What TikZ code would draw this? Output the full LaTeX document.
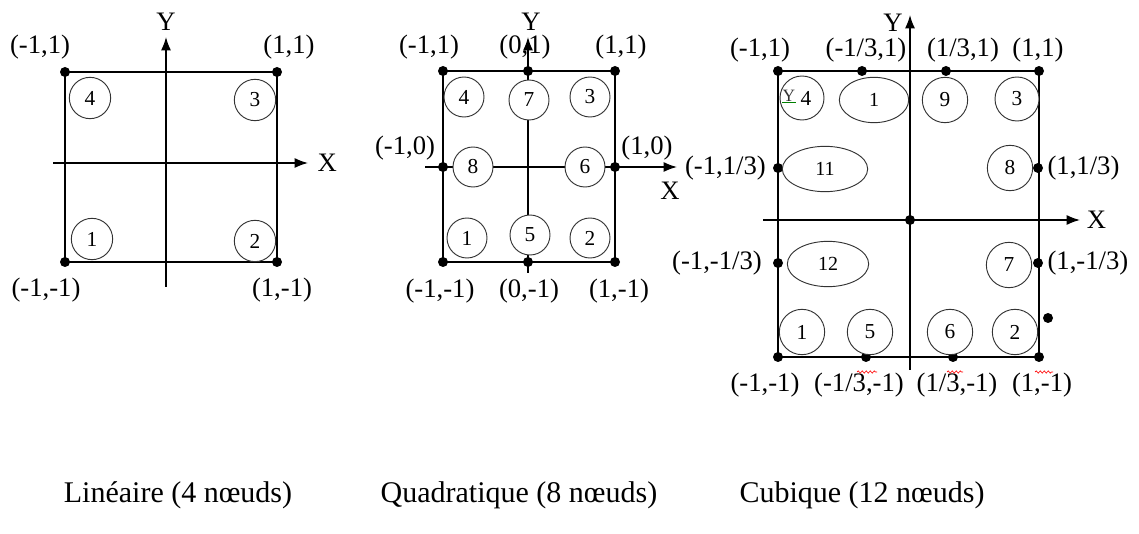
\documentclass[tikz,border=0pt]{standalone}
\usepackage{fontspec}
\setmainfont{Liberation Serif}
\usetikzlibrary{positioning,arrows.meta,shapes.geometric,decorations.pathmorphing}

\begin{document}
\begin{tikzpicture}[
    x=0.75pt, y=-0.75pt,
    dotnode/.style={circle, fill=black, inner sep=0pt, minimum size=7.5pt},
    coord/.style={font=\fontsize{20}{24}\selectfont, inner sep=0pt},
    elem/.style={draw=black!80, circle, fill=white, inner sep=0pt, minimum size=31pt, line width=0.7pt, font=\fontsize{16}{18}\selectfont},
    elemE/.style={draw=black!80, ellipse, fill=white, inner sep=0pt, line width=0.7pt, font=\fontsize{15}{17}\selectfont},
    side/.style={line width=1.1pt},
    axis/.style={line width=1.1pt, -{Latex[length=10pt, width=7.5pt]}},
    captext/.style={font=\fontsize{22.5}{27}\selectfont, inner sep=0pt},
    squig/.style={red, line width=0.5pt, decorate, decoration={snake, amplitude=0.8pt, segment length=3pt}}
]
\useasboundingbox (0,0) rectangle (1139,534);

% Lineaire
\node[dotnode] (la) at (65,262) {};
\node[dotnode] (lb) at (277,262) {};
\node[dotnode] (lc) at (277,72) {};
\node[dotnode] (ld) at (65,72) {};
\draw[side] (la.center) -- (lb.center) -- (lc.center) -- (ld.center) -- cycle;
\coordinate (lx0) at (53,163);
\coordinate (lx1) at (308,163);
\coordinate (ly0) at (166,287);
\coordinate (ly1) at (166,37);
\draw[axis] (lx0) -- (lx1);
\draw[axis] (ly0) -- (ly1);
\node[elem] (l1) at (92,239) {1};
\node[elem] (l2) at (255,241) {2};
\node[elem] (l3) at (255,100) {3};
\node[elem] (l4) at (90,98) {4};
\node[coord] (tla) at (46,290) {(-1,-1)};
\node[coord] (tlb) at (282,290) {(1,-1)};
\node[coord] (tlc) at (289,47) {(1,1)};
\node[coord] (tld) at (40,47) {(-1,1)};
\node[coord, right=7pt of lx1] (lX) {X};
\node[coord, above=5pt of ly1] (lY) {Y};

% Quadratique
\node[dotnode] (qa) at (443,262) {};
\node[dotnode] (qb) at (615,262) {};
\node[dotnode] (qc) at (615,71) {};
\node[dotnode] (qd) at (443,71) {};
\node[dotnode] (qe) at (528,262) {};
\node[dotnode] (qf) at (615,167) {};
\node[dotnode] (qg) at (528,71) {};
\node[dotnode] (qh) at (443,167) {};
\draw[side] (qa.center) -- (qb.center) -- (qc.center) -- (qd.center) -- cycle;
\coordinate (qx0) at (425,167);
\coordinate (qx1) at (677,167);
\coordinate (qy0) at (528,273);
\coordinate (qy1) at (528,37);
\draw[axis] (qx0) -- (qx1);
\draw[axis] (qy0) -- (qy1);
\node[elem, minimum size=30pt] (q1) at (467,238) {1};
\node[elem, minimum size=30pt] (q2) at (590,238) {2};
\node[elem, minimum size=30pt] (q3) at (590,97) {3};
\node[elem, minimum size=30pt] (q4) at (464,97) {4};
\node[elem, minimum size=30pt] (q5) at (530,235) {5};
\node[elem, minimum size=30pt] (q6) at (585,167) {6};
\node[elem, minimum size=30pt] (q7) at (529,100) {7};
\node[elem, minimum size=30pt] (q8) at (473,167) {8};
\node[coord] (tqa) at (440,291) {(-1,-1)};
\node[coord] (tqe) at (529,291) {(0,-1)};
\node[coord] (tqb) at (619,291) {(1,-1)};
\node[coord] (tqd) at (429,47) {(-1,1)};
\node[coord] (tqg) at (525,47) {(0,1)};
\node[coord] (tqc) at (621,47) {(1,1)};
\node[coord] (tqh) at (405,148) {(-1,0)};
\node[coord] (tqf) at (647,148) {(1,0)};
\node[coord] (qX) at (670,191) {X};
\node[coord] (qY) at (531,22) {Y};

% Cubique
\node[dotnode] (ca) at (778,357) {};
\node[dotnode] (cb) at (1039,357) {};
\node[dotnode] (cc) at (1039,71) {};
\node[dotnode] (cd) at (778,71) {};
\node[dotnode] (ce) at (866,357) {};
\node[dotnode] (cf) at (953,357) {};
\node[dotnode] (cg) at (1038,263) {};
\node[dotnode] (ch) at (1038,168) {};
\node[dotnode] (ci) at (946,71) {};
\node[dotnode] (cj) at (862,71) {};
\node[dotnode] (ck) at (778,168) {};
\node[dotnode] (cl) at (778,263) {};
\node[dotnode] (co) at (910,220) {};
\node[dotnode] (cz) at (1048,318) {};
\draw[side] (ca.center) -- (cb.center) -- (cc.center) -- (cd.center) -- cycle;
\coordinate (cx0) at (763,220);
\coordinate (cx1) at (1080,220);
\coordinate (cy0) at (910,370);
\coordinate (cy1) at (910,15);
\draw[axis] (cx0) -- (cx1);
\draw[axis] (cy0) -- (cy1);
\node[elem, minimum size=34pt] (c1) at (802,332) {1};
\node[elem, minimum size=34pt] (c2) at (1015,332) {2};
\node[elem, minimum size=33pt] (c3) at (1017,99) {3};
\node[elem, minimum size=33pt] (c4) at (802,98) {\hspace{6pt}4};
\node[elem, minimum size=34pt] (c5) at (870,332) {5};
\node[elem, minimum size=34pt] (c6) at (950,332) {6};
\node[elem, minimum size=34pt] (c7) at (1009,265) {7};
\node[elem, minimum size=34pt] (c8) at (1010,168) {8};
\node[elem, minimum size=34pt] (c9) at (945,100) {9};
\node[elemE, minimum width=52pt, minimum height=34pt] (c10) at (874,100) {1};
\node[elemE, minimum width=64pt, minimum height=34pt] (c11) at (825,169) {11};
\node[elemE, minimum width=61pt, minimum height=34pt] (c12) at (828,264) {12};
\node[font=\fontsize{13}{14}\selectfont, inner sep=0pt, black!80] (cstray) at (789,96) {Y};
\draw[green!50!black, line width=0.4pt] (cstray.south west) -- (cstray.south east);
\node[coord] (tca) at (765,385) {(-1,-1)};
\node[coord] (tce) at (859,385) {(-1/3,-1)};
\node[coord] (tcf) at (957,385) {(1/3,-1)};
\node[coord] (tcb) at (1042,385) {(1,-1)};
\node[coord] (tcd) at (760,50) {(-1,1)};
\node[coord] (tcj) at (866,50) {(-1/3,1)};
\node[coord] (tci) at (963,50) {(1/3,1)};
\node[coord] (tcc) at (1038,50) {(1,1)};
\node[coord, left=5pt of ck] (tck) {(-1,1/3)};
\node[coord, left=8pt of cl] (tcl) {(-1,-1/3)};
\node[coord, right=3pt of ch] (tch) {(1,1/3)};
\node[coord, right=3pt of cg] (tcg) {(1,-1/3)};
\node[coord, right=5pt of cx1] (cX) {X};
\node[coord] (cY) at (893,23) {Y};
\draw[squig] (857,372) -- (877,372);
\draw[squig] (947,372) -- (963,372);
\draw[squig] (1035,372) -- (1053,372);

% legendes
\node[captext] (capl) at (178,495) {Linéaire (4 nœuds)};
\node[captext] (capq) at (519,495) {Quadratique (8 nœuds)};
\node[captext] (capc) at (862,495) {Cubique (12 nœuds)};
\end{tikzpicture}
\end{document}
